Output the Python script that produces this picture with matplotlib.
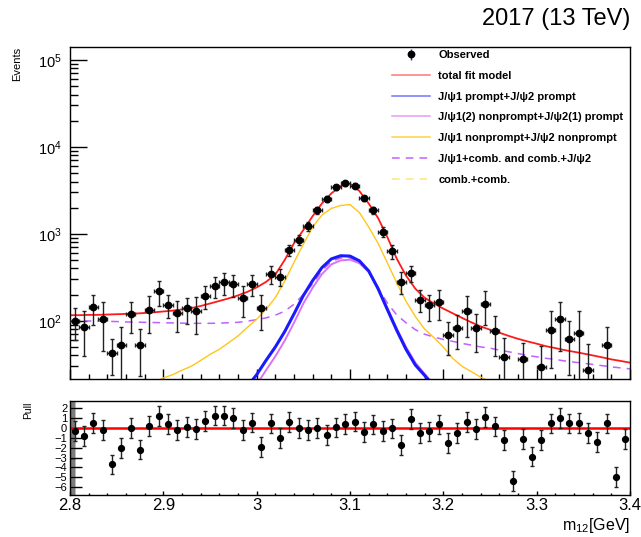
import numpy as np
import matplotlib
matplotlib.use("Agg")
import matplotlib.pyplot as plt
from matplotlib.lines import Line2D
from matplotlib.ticker import FixedLocator, MultipleLocator, NullFormatter, LogLocator, FuncFormatter

plt.rcParams['font.family'] = ['Liberation Sans', 'DejaVu Sans']
plt.rcParams['mathtext.fontset'] = 'custom'
plt.rcParams['mathtext.rm'] = 'Liberation Sans'
plt.rcParams['mathtext.it'] = 'Liberation Sans:italic'
plt.rcParams['mathtext.bf'] = 'Liberation Sans:bold'

# ---------------- data ----------------
x_min, x_max, n_bins = 2.8, 3.4, 60
nan = np.nan

events = [100, 84, 144, 105, 43, 52, 119, 52, 133, 218,
          152, 122, 139, 130, 193, 253, 276, 264, 182, 264,
          139, 345, 323, 650, 855, 1220, 1880, 2500, 3440, 3820,
          3570, 2560, 1880, 1050, 630, 283, 353, 175, 150, 164,
          68, 82, 130, 82, 155, 77, 38, nan, 36, nan,
          29.5, 79, 105, 62, 73, 27, nan, 52, nan, nan]
events_err = [40, 45, 55, 60, 19, 32, 47, 29, 60, 70,
              45, 48, 46, 60, 58, 68, 80, 75, 70, 70,
              61, 80, 70, 100, 120, 150, 180, 200, 240, 250,
              240, 200, 180, 140, 110, 80, 70, 50, 50, 62,
              28, 35, 65, 38, 65, 38, 25, nan, 19, nan,
              22, 50, 60, 38, 55, 27, nan, 32, nan, nan]
pulls = [-0.3, -0.8, 0.5, -0.2, -3.7, -2.0, 0.0, -2.2, 0.2, 1.2,
         0.4, -0.2, 0.1, -0.1, 0.7, 1.25, 1.25, 1.0, -0.2, 0.55,
         -1.9, 0.45, -1.0, 0.6, 0.0, -0.2, 0.0, -0.75, 0.05, 0.4,
         0.65, -0.4, 0.35, -0.3, -0.05, -1.7, 0.9, -0.55, -0.35, 0.35,
         -1.5, -0.55, 0.6, -0.1, 1.1, 0.15, -1.2, -5.35, -1.1, -2.9,
         -1.2, 0.45, 1.0, 0.45, 0.5, -0.5, -1.4, 0.45, -4.95, -1.1]

# fit-model curves, read at 2.80, 2.81, ..., 3.40
curve_x = np.round(np.linspace(2.8, 3.4, 61), 3)
total_fit = [116, 116, 117, 117, 118, 119, 120, 121, 123, 125,
             128, 131, 135, 140, 148, 158, 169, 181, 196, 215,
             242, 280, 340, 500, 780, 1107, 1600, 2240, 2920, 3550,
             3770, 3115, 2235, 1525, 920, 520, 331, 234, 184, 158,
             138, 122, 108, 96, 86, 79, 73, 67, 62, 58,
             54.5, 51, 48.5, 46, 44, 42, 40, 38, 36, 34.5,
             33]
prompt_prompt = [nan] * 18 + [13, 17.5,
                 24, 35, 50, 75, 120, 195, 290, 410, 515, 560,
                 555, 490, 375, 235, 135, 78, 47, 31, 23.5, 17.5,
                 13] + [nan] * 20
nonprompt_prompt = [nan] * 18 + [10, 13.5,
                    18.5, 27, 39, 59, 95, 158, 240, 345, 445, 495,
                    505, 460, 365, 238, 140, 82, 50, 33, 24.5, 18.5,
                    14, 10.5] + [nan] * 19
nonprompt_nonprompt = [nan] * 8 + [17, 19.5,
                       22, 24, 27, 30, 35, 41, 47, 56, 67, 84,
                       104, 135, 185, 285, 470, 760, 1200, 1650, 1960, 2120,
                       2170, 1760, 1200, 780, 465, 273, 168, 112, 80, 64,
                       50, 37, 30, 26, 22.5, 20, 18] + [nan] * 14
psi_comb = [100, 100, 99.5, 99, 98.5, 98, 97, 96.5, 96, 95.5,
            95, 94.5, 94, 93.5, 93.5, 93.5, 94, 95, 96, 99,
            103, 108, 116, 129, 155, 200, 265, 378, 480, 528,
            530, 475, 370, 240, 160, 117, 95, 79, 70, 65,
            61, 58, 55, 52.5, 50, 48.5, 46, 44, 42, 40,
            38.5, 37, 36, 34.5, 33.5, 32.5, 31.5, 30.5, 29.5, 28.7,
            28]
comb_x = [2.8, 3.0, 3.2, 3.4]
comb_comb = [12, 9, 6, 4]

legend_labels = ["Observed", "total fit model", "J/\u03c81 prompt+J/\u03c82 prompt",
                 "J/\u03c81(2) nonprompt+J/\u03c82(1) prompt",
                 "J/\u03c81 nonprompt+J/\u03c82 nonprompt",
                 "J/\u03c81+comb. and comb.+J/\u03c82", "comb.+comb."]

# ---------------- styles ----------------
c_red = '#ff1a1a'
c_blue = '#1a1aff'
c_mag = '#d873f5'
c_yel = '#ffc61a'
c_dash = '#c060ff'
c_cdash = '#ffe680'

W, H = 641, 537
fig = plt.figure(figsize=(W / 100, H / 100), dpi=100)
ax = fig.add_axes([70 / W, 1 - 379 / H, 560 / W, 332 / H])
axp = fig.add_axes([70 / W, 1 - 495 / H, 560 / W, 94 / H])

edges = np.linspace(x_min, x_max, n_bins + 1)
centers = 0.5 * (edges[:-1] + edges[1:])
half = 0.5 * (edges[1] - edges[0])

ev = np.array(events, float)
ee = np.array(events_err, float)

ax.plot(comb_x, comb_comb, color=c_cdash, lw=1.1, dashes=(5, 4))
ax.plot(curve_x, psi_comb, color=c_dash, lw=1.1, dashes=(5, 4))
ax.plot(curve_x, nonprompt_nonprompt, color=c_yel, lw=1.0)
ax.plot(curve_x, nonprompt_prompt, color=c_mag, lw=1.4)
ax.plot(curve_x, prompt_prompt, color=c_blue, lw=2.2)
ax.plot(curve_x, total_fit, color=c_red, lw=1.3)
ax.errorbar(centers, ev, yerr=ee, xerr=half, fmt='o', ms=4.6, color='black',
            ecolor='#222222', elinewidth=1.0, capsize=1.2, capthick=1.0, zorder=5)

ax.set_yscale('log')
ax.set_xlim(x_min, x_max)
ax.set_ylim(21.4, 1.41e5)
ax.xaxis.set_major_locator(MultipleLocator(0.1))
ax.xaxis.set_minor_locator(MultipleLocator(0.02))
ax.xaxis.set_major_formatter(NullFormatter())
ax.yaxis.set_major_locator(FixedLocator([1e2, 1e3, 1e4, 1e5]))
ax.yaxis.set_minor_locator(LogLocator(base=10, subs=np.arange(2, 10)))
ax.yaxis.set_minor_formatter(NullFormatter())
ax.set_yticklabels([r'$10^{2}$', r'$10^{3}$', r'$10^{4}$', r'$10^{5}$'])
ax.tick_params(axis='y', which='major', direction='in', length=12, width=1.0,
               labelsize=10.5, pad=6, right=False)
ax.tick_params(axis='y', which='minor', direction='in', length=6, width=1.0, right=False)
ax.tick_params(axis='x', which='major', direction='in', length=7, width=1.0, top=False)
ax.tick_params(axis='x', which='minor', direction='in', length=3.6, width=1.0, top=False)
for s in ax.spines.values():
    s.set_linewidth(1.0)

# legend
h_obs = ax.errorbar([nan], [nan], yerr=[1], fmt='o', ms=4.6, color='black',
                    ecolor='#2a2a80', elinewidth=1.0)
handles = [h_obs,
           Line2D([], [], color=c_red, lw=1.1, alpha=0.6),
           Line2D([], [], color=c_blue, lw=1.1, alpha=0.6),
           Line2D([], [], color=c_mag, lw=1.1, alpha=0.7),
           Line2D([], [], color=c_yel, lw=1.1, alpha=0.8),
           Line2D([], [], color=c_dash, lw=1.1, dashes=(5, 4)),
           Line2D([], [], color=c_cdash, lw=1.1, dashes=(5, 4))]
leg = ax.legend(handles, legend_labels, loc='upper left',
                bbox_to_anchor=(392 / W, 1 - 50 / H), bbox_transform=fig.transFigure,
                frameon=False, borderpad=0, borderaxespad=0, handlelength=3.45,
                handletextpad=0.72, labelspacing=0.97, prop={'weight': 'bold', 'size': 8})

# pull panel
pl = np.array(pulls, float)
axp.axhline(0, color='#ff0000', lw=1.8, zorder=2)
axp.errorbar(centers, pl, yerr=1.0, fmt='o', ms=4.2, color='black', ecolor='#222222',
             elinewidth=1.0, capsize=1.2, capthick=1.0, zorder=5)
axp.set_xlim(x_min, x_max)
axp.set_ylim(-6.8, 2.73)
axp.xaxis.set_major_locator(MultipleLocator(0.1))
axp.xaxis.set_minor_locator(MultipleLocator(0.02))
axp.xaxis.set_major_formatter(FuncFormatter(
    lambda v, p: ('%.1f' % v).rstrip('0').rstrip('.')))
axp.yaxis.set_major_locator(MultipleLocator(1))
axp.yaxis.set_minor_locator(MultipleLocator(0.1))
axp.tick_params(axis='y', which='major', direction='in', length=8.5, width=1.0,
                labelsize=8, pad=2, right=False)
axp.tick_params(axis='y', which='minor', direction='in', length=3.6, width=0.5,
                right=False, color='#444444')
axp.tick_params(axis='x', which='major', direction='in', length=3, width=1.0,
                labelsize=12, pad=2.5, top=False)
axp.tick_params(axis='x', which='minor', direction='in', length=1.5, width=1.0, top=False)
for s in axp.spines.values():
    s.set_linewidth(1.0)

# texts
fig.text(630 / W, 1 - 19 / H, "2017 (13 TeV)", ha='right', va='center', fontsize=17)
fig.text(17 / W, 1 - 47 / H, "Events", rotation=90, ha='center', va='top', fontsize=8)
fig.text(28 / W, 1 - 402 / H, "Pull", rotation=90, ha='center', va='top', fontsize=7.5)
fig.text(630 / W, 1 - 530 / H, r"m$_{12}$[GeV]", ha='right', va='baseline', fontsize=11.5)

fig.savefig("out.png", dpi=100)
